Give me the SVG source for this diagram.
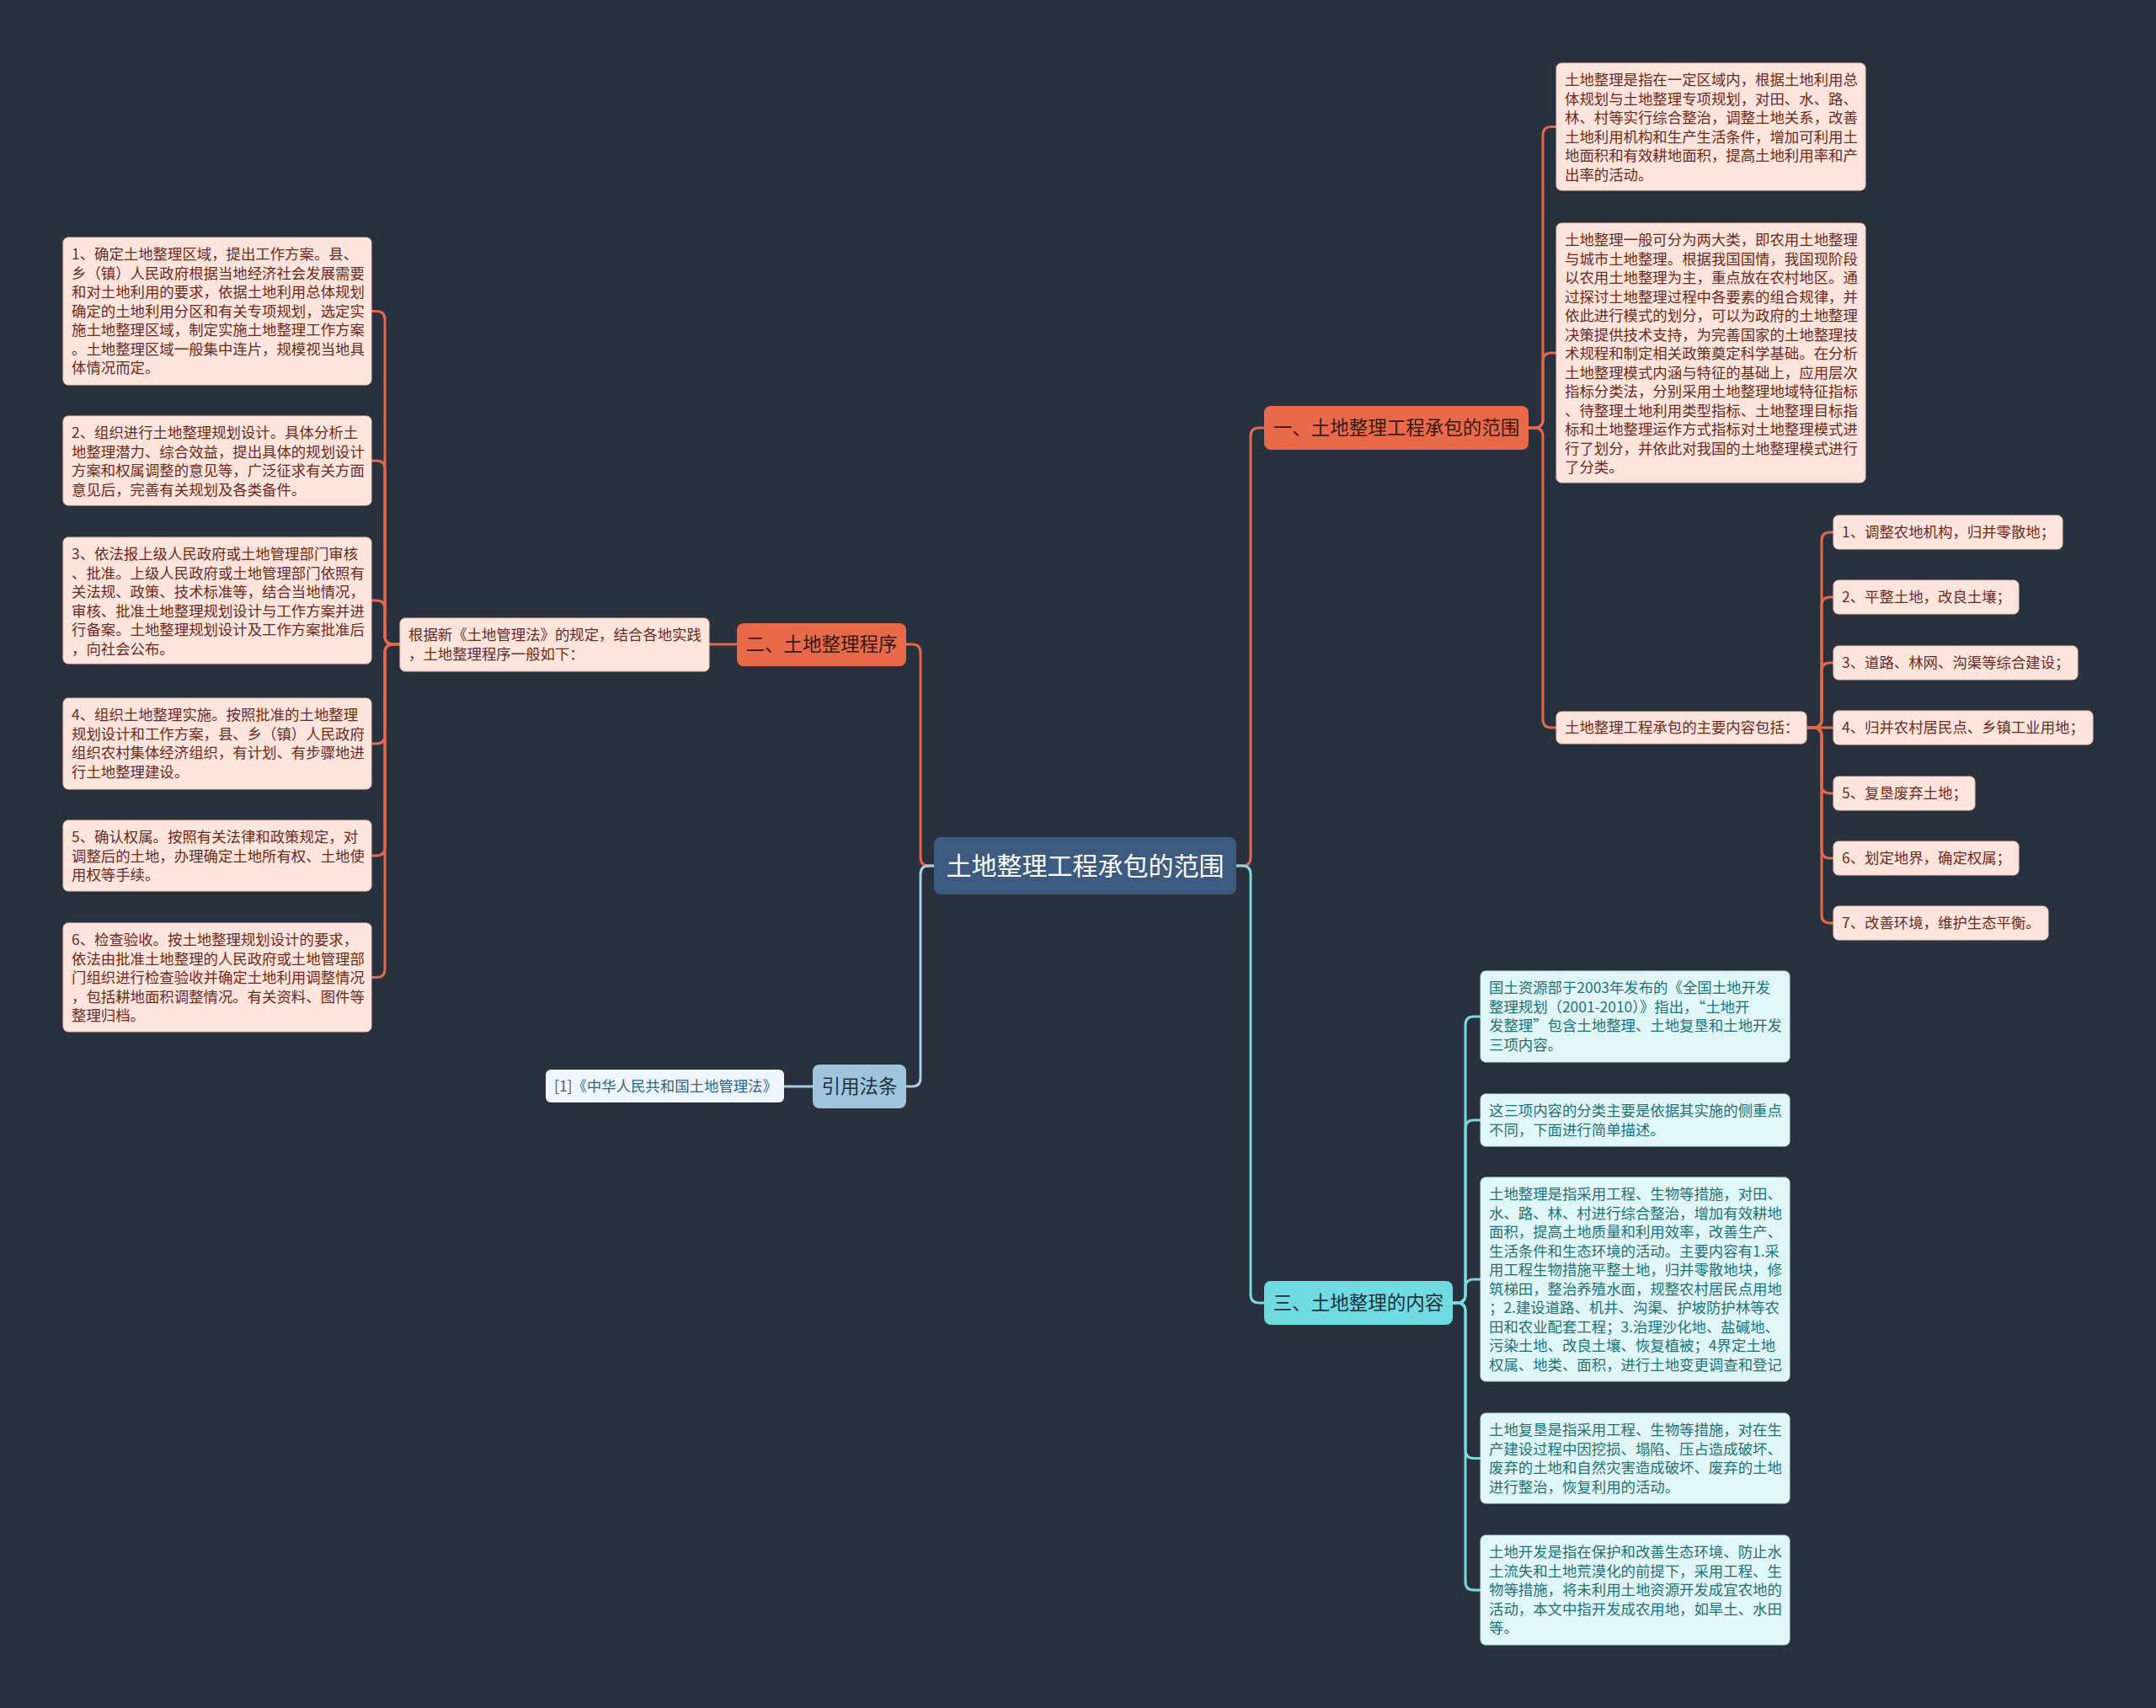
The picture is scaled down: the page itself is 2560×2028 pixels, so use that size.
<svg xmlns="http://www.w3.org/2000/svg" width="2560" height="2028" viewBox="0 0 2560 2028">
<style>
text{font-family:"Noto Sans CJK SC","Noto Sans",sans-serif;}
.bg{fill:#29313f}
.lo{fill:#fde4dc;stroke:#f3c9bb;stroke-width:1}
.lc{fill:#e0f6f7;stroke:#bfe9ec;stroke-width:1}
.to{fill:#6e2a1c;font-size:17.4px}
.tc{fill:#1f7277;font-size:17.4px}
.cn{fill:none;stroke-width:3;stroke-linecap:round;stroke-linejoin:round}
.co{stroke:#e2694b}
.cc{stroke:#78d9df}
.cb{stroke:#a9cbe3}
.big{font-size:22.5px;text-anchor:middle}
</style>
<rect class="bg" x="0" y="0" width="2560" height="2028"/>
<g id="connectors">
<path class="cn co" d="M1109,1028 H1103 Q1093,1028 1093,1018 V775 Q1093,765 1083,765 H1076"/>
<path class="cn cb" d="M1109,1028 H1103 Q1093,1028 1093,1038 V1280 Q1093,1290 1083,1290 H1076"/>
<path class="cn co" d="M1468,1028 H1475 Q1485,1028 1485,1018 V518 Q1485,508 1495,508 H1501"/>
<path class="cn cc" d="M1468,1028 H1475 Q1485,1028 1485,1038 V1537 Q1485,1547 1495,1547 H1501"/>
<path class="cn co" d="M875,765 H842"/>
<path class="cn cb" d="M965,1290 H931"/>
<path class="cn co" d="M475,765 H467 Q457,765 457,755 V379.5 Q457,369.5 447,369.5 H441"/>
<path class="cn co" d="M475,765 H467 Q457,765 457,755 V557 Q457,547 447,547 H441"/>
<path class="cn co" d="M475,765 H467 Q457,765 457,755 V723 Q457,713 447,713 H441"/>
<path class="cn co" d="M475,765 H467 Q457,765 457,775 V873 Q457,883 447,883 H441"/>
<path class="cn co" d="M475,765 H467 Q457,765 457,775 V1006 Q457,1016 447,1016 H441"/>
<path class="cn co" d="M475,765 H467 Q457,765 457,775 V1150.5 Q457,1160.5 447,1160.5 H441"/>
<path class="cn co" d="M1815,508 H1822 Q1832,508 1832,498 V160.5 Q1832,150.5 1842,150.5 H1848"/>
<path class="cn co" d="M1815,508 H1822 Q1832,508 1832,498 V429 Q1832,419 1842,419 H1848"/>
<path class="cn co" d="M1815,508 H1822 Q1832,508 1832,518 V854 Q1832,864 1842,864 H1848"/>
<path class="cn co" d="M2145,864 H2153 Q2163,864 2163,854 V642 Q2163,632 2173,632 H2177"/>
<path class="cn co" d="M2145,864 H2153 Q2163,864 2163,854 V719 Q2163,709 2173,709 H2177"/>
<path class="cn co" d="M2145,864 H2153 Q2163,864 2163,854 V797 Q2163,787 2173,787 H2177"/>
<path class="cn co" d="M2145,864 H2177"/>
<path class="cn co" d="M2145,864 H2153 Q2163,864 2163,874 V932 Q2163,942 2173,942 H2177"/>
<path class="cn co" d="M2145,864 H2153 Q2163,864 2163,874 V1009 Q2163,1019 2173,1019 H2177"/>
<path class="cn co" d="M2145,864 H2153 Q2163,864 2163,874 V1086 Q2163,1096 2173,1096 H2177"/>
<path class="cn cc" d="M1725,1547 H1730 Q1740,1547 1740,1537 V1217 Q1740,1207 1750,1207 H1758"/>
<path class="cn cc" d="M1725,1547 H1730 Q1740,1547 1740,1537 V1340 Q1740,1330 1750,1330 H1758"/>
<path class="cn cc" d="M1725,1547 H1730 Q1740,1547 1740,1537 V1529 Q1740,1519 1750,1519 H1758"/>
<path class="cn cc" d="M1725,1547 H1730 Q1740,1547 1740,1557 V1721.5 Q1740,1731.5 1750,1731.5 H1758"/>
<path class="cn cc" d="M1725,1547 H1730 Q1740,1547 1740,1557 V1878 Q1740,1888 1750,1888 H1758"/>
</g>
<g id="center">
<rect x="1109" y="994" width="359" height="68" rx="8" fill="#3d5b80"/>
<text x="1288.5" y="1039" fill="#ffffff" font-size="30" text-anchor="middle">土地整理工程承包的范围</text>
</g>
<g id="branch1">
<rect x="1501" y="482" width="314" height="52" rx="8" fill="#e9694b"/>
<text x="1658" y="516" fill="#3a1810" class="big">一、土地整理工程承包的范围</text>
</g>
<g id="branch2">
<rect x="875" y="740" width="201" height="51" rx="8" fill="#e9694b"/>
<text x="975.5" y="773" fill="#3a1810" class="big">二、土地整理程序</text>
</g>
<g id="branch3">
<rect x="1501" y="1521" width="224" height="52" rx="8" fill="#6fdbe1"/>
<text x="1613" y="1555" fill="#1d2f3a" class="big">三、土地整理的内容</text>
</g>
<g id="cite-branch">
<rect x="965" y="1264" width="111" height="52" rx="8" fill="#a0c4dc"/>
<text x="1020.5" y="1298" fill="#23303d" class="big">引用法条</text>
</g>
<g id="cite">
<rect x="648" y="1270" width="283" height="39" rx="6" fill="#eef6fb"/>
<text x="658" y="1296" fill="#2f6585" font-size="17.4">[1]《中华人民共和国土地管理法》</text>
</g>
<g id="procedure-intro">
<rect class="lo" x="475" y="734" width="367" height="63" rx="6"/>
<text class="to" x="485" y="760"><tspan x="485" dy="0">根据新《土地管理法》的规定，结合各地实践</tspan><tspan x="485" dy="22.5">，土地整理程序一般如下：</tspan></text>
</g>
<g id="step1">
<rect class="lo" x="75" y="282" width="366" height="175" rx="6"/>
<text class="to" x="85" y="308"><tspan x="85" dy="0">1、确定土地整理区域，提出工作方案。县、</tspan><tspan x="85" dy="22.5">乡（镇）人民政府根据当地经济社会发展需要</tspan><tspan x="85" dy="22.5">和对土地利用的要求，依据土地利用总体规划</tspan><tspan x="85" dy="22.5">确定的土地利用分区和有关专项规划，选定实</tspan><tspan x="85" dy="22.5">施土地整理区域，制定实施土地整理工作方案</tspan><tspan x="85" dy="22.5">。土地整理区域一般集中连片，规模视当地具</tspan><tspan x="85" dy="22.5">体情况而定。</tspan></text>
</g>
<g id="step2">
<rect class="lo" x="75" y="494" width="366" height="106" rx="6"/>
<text class="to" x="85" y="520"><tspan x="85" dy="0">2、组织进行土地整理规划设计。具体分析土</tspan><tspan x="85" dy="22.5">地整理潜力、综合效益，提出具体的规划设计</tspan><tspan x="85" dy="22.5">方案和权属调整的意见等，广泛征求有关方面</tspan><tspan x="85" dy="22.5">意见后，完善有关规划及各类备件。</tspan></text>
</g>
<g id="step3">
<rect class="lo" x="75" y="638" width="366" height="150" rx="6"/>
<text class="to" x="85" y="664"><tspan x="85" dy="0">3、依法报上级人民政府或土地管理部门审核</tspan><tspan x="85" dy="22.5">、批准。上级人民政府或土地管理部门依照有</tspan><tspan x="85" dy="22.5">关法规、政策、技术标准等，结合当地情况，</tspan><tspan x="85" dy="22.5">审核、批准土地整理规划设计与工作方案并进</tspan><tspan x="85" dy="22.5">行备案。土地整理规划设计及工作方案批准后</tspan><tspan x="85" dy="22.5">，向社会公布。</tspan></text>
</g>
<g id="step4">
<rect class="lo" x="75" y="829" width="366" height="108" rx="6"/>
<text class="to" x="85" y="855"><tspan x="85" dy="0">4、组织土地整理实施。按照批准的土地整理</tspan><tspan x="85" dy="22.5">规划设计和工作方案，县、乡（镇）人民政府</tspan><tspan x="85" dy="22.5">组织农村集体经济组织，有计划、有步骤地进</tspan><tspan x="85" dy="22.5">行土地整理建设。</tspan></text>
</g>
<g id="step5">
<rect class="lo" x="75" y="974" width="366" height="84" rx="6"/>
<text class="to" x="85" y="1000"><tspan x="85" dy="0">5、确认权属。按照有关法律和政策规定，对</tspan><tspan x="85" dy="22.5">调整后的土地，办理确定土地所有权、土地使</tspan><tspan x="85" dy="22.5">用权等手续。</tspan></text>
</g>
<g id="step6">
<rect class="lo" x="75" y="1096" width="366" height="129" rx="6"/>
<text class="to" x="85" y="1122"><tspan x="85" dy="0">6、检查验收。按土地整理规划设计的要求，</tspan><tspan x="85" dy="22.5">依法由批准土地整理的人民政府或土地管理部</tspan><tspan x="85" dy="22.5">门组织进行检查验收并确定土地利用调整情况</tspan><tspan x="85" dy="22.5">，包括耕地面积调整情况。有关资料、图件等</tspan><tspan x="85" dy="22.5">整理归档。</tspan></text>
</g>
<g id="scope-def">
<rect class="lo" x="1848" y="75" width="367" height="151" rx="6"/>
<text class="to" x="1858" y="101"><tspan x="1858" dy="0">土地整理是指在一定区域内，根据土地利用总</tspan><tspan x="1858" dy="22.5">体规划与土地整理专项规划，对田、水、路、</tspan><tspan x="1858" dy="22.5">林、村等实行综合整治，调整土地关系，改善</tspan><tspan x="1858" dy="22.5">土地利用机构和生产生活条件，增加可利用土</tspan><tspan x="1858" dy="22.5">地面积和有效耕地面积，提高土地利用率和产</tspan><tspan x="1858" dy="22.5">出率的活动。</tspan></text>
</g>
<g id="scope-types">
<rect class="lo" x="1848" y="265" width="367" height="308" rx="6"/>
<text class="to" x="1858" y="291"><tspan x="1858" dy="0">土地整理一般可分为两大类，即农用土地整理</tspan><tspan x="1858" dy="22.5">与城市土地整理。根据我国国情，我国现阶段</tspan><tspan x="1858" dy="22.5">以农用土地整理为主，重点放在农村地区。通</tspan><tspan x="1858" dy="22.5">过探讨土地整理过程中各要素的组合规律，并</tspan><tspan x="1858" dy="22.5">依此进行模式的划分，可以为政府的土地整理</tspan><tspan x="1858" dy="22.5">决策提供技术支持，为完善国家的土地整理技</tspan><tspan x="1858" dy="22.5">术规程和制定相关政策奠定科学基础。在分析</tspan><tspan x="1858" dy="22.5">土地整理模式内涵与特征的基础上，应用层次</tspan><tspan x="1858" dy="22.5">指标分类法，分别采用土地整理地域特征指标</tspan><tspan x="1858" dy="22.5">、待整理土地利用类型指标、土地整理目标指</tspan><tspan x="1858" dy="22.5">标和土地整理运作方式指标对土地整理模式进</tspan><tspan x="1858" dy="22.5">行了划分，并依此对我国的土地整理模式进行</tspan><tspan x="1858" dy="22.5">了分类。</tspan></text>
</g>
<g id="scope-main">
<rect class="lo" x="1848" y="845" width="297" height="38" rx="6"/>
<text class="to" x="1858" y="870">土地整理工程承包的主要内容包括：</text>
</g>
<g id="item1"><rect class="lo" x="2177" y="612" width="272" height="40" rx="6"/><text class="to" x="2187" y="638">1、调整农地机构，归并零散地；</text></g>
<g id="item2"><rect class="lo" x="2177" y="689" width="220" height="40" rx="6"/><text class="to" x="2187" y="715">2、平整土地，改良土壤；</text></g>
<g id="item3"><rect class="lo" x="2177" y="767" width="290" height="40" rx="6"/><text class="to" x="2187" y="793">3、道路、林网、沟渠等综合建设；</text></g>
<g id="item4"><rect class="lo" x="2177" y="844" width="308" height="40" rx="6"/><text class="to" x="2187" y="870">4、归并农村居民点、乡镇工业用地；</text></g>
<g id="item5"><rect class="lo" x="2177" y="922" width="168" height="40" rx="6"/><text class="to" x="2187" y="948">5、复垦废弃土地；</text></g>
<g id="item6"><rect class="lo" x="2177" y="999" width="220" height="40" rx="6"/><text class="to" x="2187" y="1025">6、划定地界，确定权属；</text></g>
<g id="item7"><rect class="lo" x="2177" y="1076" width="255" height="40" rx="6"/><text class="to" x="2187" y="1102">7、改善环境，维护生态平衡。</text></g>
<g id="content1">
<rect class="lc" x="1758" y="1153" width="367" height="108" rx="6"/>
<text class="tc" x="1768" y="1179"><tspan x="1768" dy="0">国土资源部于2003年发布的《全国土地开发</tspan><tspan x="1768" dy="22.5">整理规划（2001-2010）》指出，“土地开</tspan><tspan x="1768" dy="22.5">发整理”包含土地整理、土地复垦和土地开发</tspan><tspan x="1768" dy="22.5">三项内容。</tspan></text>
</g>
<g id="content2">
<rect class="lc" x="1758" y="1299" width="367" height="62" rx="6"/>
<text class="tc" x="1768" y="1325"><tspan x="1768" dy="0">这三项内容的分类主要是依据其实施的侧重点</tspan><tspan x="1768" dy="22.5">不同，下面进行简单描述。</tspan></text>
</g>
<g id="content3">
<rect class="lc" x="1758" y="1398" width="367" height="242" rx="6"/>
<text class="tc" x="1768" y="1424"><tspan x="1768" dy="0">土地整理是指采用工程、生物等措施，对田、</tspan><tspan x="1768" dy="22.5">水、路、林、村进行综合整治，增加有效耕地</tspan><tspan x="1768" dy="22.5">面积，提高土地质量和利用效率，改善生产、</tspan><tspan x="1768" dy="22.5">生活条件和生态环境的活动。主要内容有1.采</tspan><tspan x="1768" dy="22.5">用工程生物措施平整土地，归并零散地块，修</tspan><tspan x="1768" dy="22.5">筑梯田，整治养殖水面，规整农村居民点用地</tspan><tspan x="1768" dy="22.5">；2.建设道路、机井、沟渠、护坡防护林等农</tspan><tspan x="1768" dy="22.5">田和农业配套工程；3.治理沙化地、盐碱地、</tspan><tspan x="1768" dy="22.5">污染土地、改良土壤、恢复植被；4界定土地</tspan><tspan x="1768" dy="22.5">权属、地类、面积，进行土地变更调查和登记</tspan></text>
</g>
<g id="content4">
<rect class="lc" x="1758" y="1678" width="367" height="107" rx="6"/>
<text class="tc" x="1768" y="1704"><tspan x="1768" dy="0">土地复垦是指采用工程、生物等措施，对在生</tspan><tspan x="1768" dy="22.5">产建设过程中因挖损、塌陷、压占造成破坏、</tspan><tspan x="1768" dy="22.5">废弃的土地和自然灾害造成破坏、废弃的土地</tspan><tspan x="1768" dy="22.5">进行整治，恢复利用的活动。</tspan></text>
</g>
<g id="content5">
<rect class="lc" x="1758" y="1823" width="367" height="130" rx="6"/>
<text class="tc" x="1768" y="1849"><tspan x="1768" dy="0">土地开发是指在保护和改善生态环境、防止水</tspan><tspan x="1768" dy="22.5">土流失和土地荒漠化的前提下，采用工程、生</tspan><tspan x="1768" dy="22.5">物等措施，将未利用土地资源开发成宜农地的</tspan><tspan x="1768" dy="22.5">活动，本文中指开发成农用地，如旱土、水田</tspan><tspan x="1768" dy="22.5">等。</tspan></text>
</g>
</svg>
